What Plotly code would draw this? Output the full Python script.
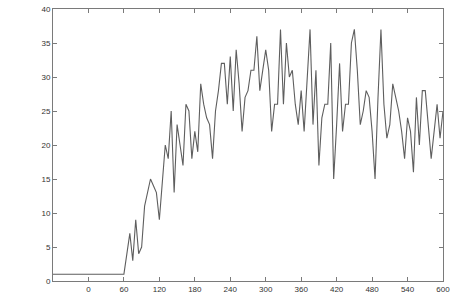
import plotly.graph_objects as go

x_vals = list(range(-60, 605, 5))
flat_part = [1] * 25  # x = -60 .. 60
active_part = [
    4, 7, 3, 9, 4, 5, 11, 13, 15, 14, 13, 9, 14, 20, 18, 25, 13, 23, 20, 17,
    26, 25, 18, 22, 19, 29, 26, 24, 23, 18, 25, 28, 32, 32, 26, 33, 25, 34, 29, 22,
    27, 28, 31, 31, 36, 28, 31, 34, 31, 22, 26, 26, 37, 26, 35, 30, 31, 26, 23, 28,
    22, 29, 37, 23, 31, 17, 24, 26, 26, 35, 15, 23, 32, 22, 26, 26, 35, 37, 31, 23,
    25, 28, 27, 22, 15, 27, 37, 26, 21, 23, 29, 27, 25, 22, 18, 24, 22, 16, 27, 20,
    28, 28, 23, 18, 22, 26, 21, 25,
]
y_vals = flat_part + active_part

x_ticks = list(range(0, 601, 60))
y_ticks = list(range(0, 41, 5))

fig = go.Figure()
fig.add_trace(go.Scatter(x=x_vals, y=y_vals, mode="lines",
                         line=dict(color="#5e5e5e", width=1.1), hoverinfo="skip"))

axis_common = dict(showgrid=False, zeroline=False, showline=True, linecolor="#7a7a7a",
                   linewidth=1, mirror="ticks", ticks="inside", ticklen=4,
                   tickcolor="#7a7a7a", automargin=False,
                   tickfont=dict(family="Liberation Sans", size=8, color="#333333"))

fig.update_layout(
    width=470, height=300,
    margin=dict(l=53, r=27, t=9, b=19, pad=0),
    paper_bgcolor="white", plot_bgcolor="white",
    showlegend=False,
    xaxis=dict(range=[-60, 600], tickvals=x_ticks, ticktext=[str(v) for v in x_ticks], **axis_common),
    yaxis=dict(range=[0, 40], tickvals=y_ticks, ticktext=[str(v) for v in y_ticks], **axis_common),
)

fig.write_html("out.html")
